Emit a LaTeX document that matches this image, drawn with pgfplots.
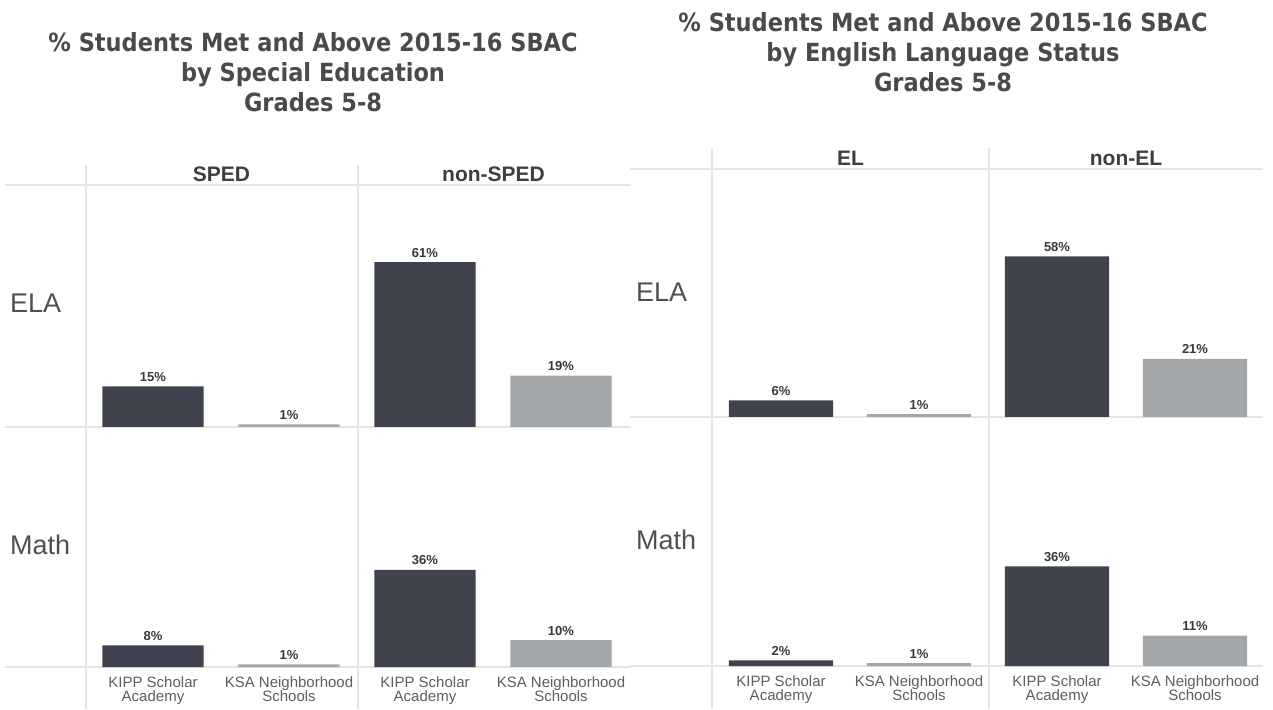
\documentclass[border=0pt]{standalone}
\usepackage{fontspec}
\setmainfont{Liberation Sans}
\newfontfamily\titlefont[FakeStretch=0.9]{DejaVu Sans}
\usepackage{pgfplots}
\pgfplotsset{compat=1.18}
\definecolor{dark}{HTML}{40434E}
\definecolor{lgray}{HTML}{A3A7AA}
\definecolor{gridc}{HTML}{E4E4E4}
\definecolor{ttl}{HTML}{4A4A4A}
\definecolor{hdr}{HTML}{3E3E3E}
\definecolor{rowc}{HTML}{505050}
\definecolor{tickc}{HTML}{5E5E5E}
\pgfplotsset{
  facet/.style={scale only axis, xmin=-0.5, xmax=3.5, ymin=0,
    axis line style={draw=none}, major tick length=0pt, ytick=\empty,
    /pgf/number format/assume math mode=true,
    ybar, bar shift=0pt, clip=false,
    nodes near coords={\pgfmathprintnumber{\pgfplotspointmeta}\%},
    every node near coord/.append style={font=\bfseries\fontsize{13}{14}\selectfont, text=black!78, anchor=base, yshift=5pt, inner sep=0pt}},
  toprow/.style={xtick=\empty},
  botrow/.style={xtick={0,1,2,3},
    xticklabels={{KIPP Scholar\\Academy},{KSA Neighborhood\\Schools},{KIPP Scholar\\Academy},{KSA Neighborhood\\Schools}},
    xticklabel style={align=center, font=\fontsize{15}{14}\selectfont, text=tickc, anchor=north, yshift=-9pt, inner sep=0pt}}
}
\begin{document}
\begin{tikzpicture}[x=1pt,y=1pt]
\path[use as bounding box] (0pt,0pt) rectangle (1273pt,709pt);
% grid lines left panel
\begin{scope}[draw=gridc, line width=1.3pt]
\draw (5,524) -- (631,524);
\draw (5,282) -- (631,282);
\draw (5,42) -- (631,42);
\draw (86,544) -- (86,0);
\draw (358,544) -- (358,0);
% right panel
\draw (630,540) -- (1263,540);
\draw (630,292) -- (1263,292);
\draw (630,43) -- (1263,43);
\draw (712,561) -- (712,0);
\draw (989,561) -- (989,0);
\end{scope}
% titles
\begin{scope}[every node/.style={anchor=base, inner sep=0pt, text=ttl, font=\titlefont\bfseries\fontsize{25}{30}\selectfont}]
\node at (313,657) {\% Students Met and Above 2015-16 SBAC};
\node at (313,627) {by Special Education};
\node at (313,597) {Grades 5-8};
\node at (943,677) {\% Students Met and Above 2015-16 SBAC};
\node at (943,647) {by English Language Status};
\node at (943,617) {Grades 5-8};
\end{scope}
% headers
\begin{scope}[every node/.style={anchor=base, inner sep=0pt, text=hdr, font=\bfseries\fontsize{21}{24}\selectfont}]
\node at (221.5,527) {SPED};
\node at (493.5,527) {non-SPED};
\node at (850.5,543) {EL};
\node at (1126,543) {non-EL};
\end{scope}
% row labels
\begin{scope}[every node/.style={anchor=base west, inner sep=0pt, text=rowc, font=\fontsize{27}{30}\selectfont}]
\node at (10,396) {ELA};
\node at (10,154) {Math};
\node at (636,407) {ELA};
\node at (636,159) {Math};
\end{scope}
% left ELA
\begin{axis}[facet, toprow, at={(85pt,282pt)}, anchor=south west, width=544pt, height=242pt, ymax=89.6, bar width=0.745]
\addplot[fill=dark, draw=none] coordinates {(0,15) (2,61)};
\addplot[fill=lgray, draw=none] coordinates {(1,1) (3,19)};
\end{axis}
% left Math
\begin{axis}[facet, botrow, at={(85pt,42pt)}, anchor=south west, width=544pt, height=240pt, ymax=88.9, bar width=0.745]
\addplot[fill=dark, draw=none] coordinates {(0,8) (2,36)};
\addplot[fill=lgray, draw=none] coordinates {(1,1) (3,10)};
\end{axis}
% right ELA
\begin{axis}[facet, toprow, at={(712pt,292pt)}, anchor=south west, width=552pt, height=248pt, ymax=89.5, bar width=0.754]
\addplot[fill=dark, draw=none] coordinates {(0,6) (2,58)};
\addplot[fill=lgray, draw=none] coordinates {(1,1) (3,21)};
\end{axis}
% right Math
\begin{axis}[facet, botrow, at={(712pt,43pt)}, anchor=south west, width=552pt, height=249pt, ymax=89.9, bar width=0.754]
\addplot[fill=dark, draw=none] coordinates {(0,2) (2,36)};
\addplot[fill=lgray, draw=none] coordinates {(1,1) (3,11)};
\end{axis}
\end{tikzpicture}
\end{document}
